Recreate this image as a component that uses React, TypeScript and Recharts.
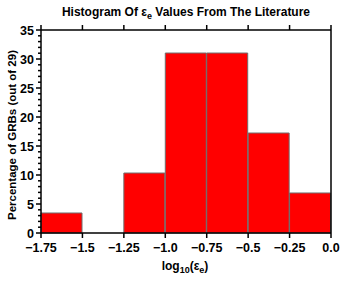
import React from "react";
import { ComposedChart, Bar, XAxis, YAxis } from "recharts";

const binLabels = ["-1.75..-1.5", "-1.5..-1.25", "-1.25..-1.0", "-1.0..-0.75", "-0.75..-0.5", "-0.5..-0.25", "-0.25..0.0"];
const binCenters = [-1.625, -1.375, -1.125, -0.875, -0.625, -0.375, -0.125];
const percentages = [3.45, 0, 10.34, 31.03, 31.03, 17.24, 6.9];
const xTickValues = [-1.75, -1.5, -1.25, -1.0, -0.75, -0.5, -0.25, 0.0];
const xTickLabels = ["\u22121.75", "\u22121.5", "\u22121.25", "\u22121.0", "\u22120.75", "\u22120.5", "\u22120.25", "0.0"];
const yTickValues = Array.from({ length: 36 }, (_, i) => i);

const data = binLabels.map((b, i) => ({ bin: b, center: binCenters[i], pct: percentages[i] }));

const FONT = "'Liberation Sans', Arial, Helvetica, sans-serif";

const LeftTick = (props: any) => {
  const { x, y, payload } = props;
  const major = payload.value % 5 === 0;
  return (
    <g>
      <line x1={x - (major ? 5 : 3)} x2={x} y1={y} y2={y} stroke="#000" strokeWidth={1.5} />
      {major && (
        <text x={x - 7} y={y + 4.5} textAnchor="end" fontFamily={FONT} fontWeight="bold" fontSize={12.5} fill="#000">
          {payload.value}
        </text>
      )}
    </g>
  );
};

const RightTick = (props: any) => {
  const { x, y, payload } = props;
  const major = payload.value % 5 === 0;
  return <line x1={x} x2={x + (major ? 5 : 3)} y1={y} y2={y} stroke="#000" strokeWidth={1.5} />;
};

const BottomTick = (props: any) => {
  const { x, y, payload, index } = props;
  const i = xTickValues.indexOf(payload.value);
  return (
    <g>
      <line x1={x} x2={x} y1={y} y2={y + 5} stroke="#000" strokeWidth={1.5} />
      <text x={x} y={y + 19} textAnchor="middle" fontFamily={FONT} fontWeight="bold" fontSize={12.5} fill="#000">
        {xTickLabels[i >= 0 ? i : index]}
      </text>
    </g>
  );
};

const TopTick = (props: any) => {
  const { x, y } = props;
  return <line x1={x} x2={x} y1={y - 5} y2={y} stroke="#000" strokeWidth={1.5} />;
};

export default function App() {
  return (
    <div style={{ position: "absolute", left: 0, top: 0, width: 342, height: 284, background: "#fff" }}>
      <div
        style={{
          position: "absolute",
          left: 0,
          top: 5,
          width: 372,
          textAlign: "center",
          fontFamily: FONT,
          fontWeight: "bold",
          fontSize: 12,
          color: "#000",
          whiteSpace: "nowrap",
        }}
      >
        Histogram Of &#949;<sub style={{ fontSize: 9 }}>e</sub> Values From The Literature
      </div>
      <div
        style={{
          position: "absolute",
          left: 12,
          top: 135,
          transform: "translate(-50%, -50%) rotate(-90deg)",
          fontFamily: FONT,
          fontWeight: "bold",
          fontSize: 11.5,
          color: "#000",
          whiteSpace: "nowrap",
        }}
      >
        Percentage of GRBs (out of 29)
      </div>
      <div
        style={{
          position: "absolute",
          left: 0,
          top: 259,
          width: 370,
          textAlign: "center",
          fontFamily: FONT,
          fontWeight: "bold",
          fontSize: 12,
          color: "#000",
          whiteSpace: "nowrap",
        }}
      >
        log<sub style={{ fontSize: 9 }}>10</sub>(&#949;<sub style={{ fontSize: 9 }}>e</sub>)
      </div>
      <div style={{ position: "absolute", left: 0, top: 0 }}>
        <ComposedChart
          width={342}
          height={284}
          data={data}
          margin={{ top: 0, right: 0, bottom: 0, left: 0 }}
          barCategoryGap={0}
          barGap={0}
        >
          <XAxis
            xAxisId="num"
            dataKey="center"
            type="number"
            domain={[-1.75, 0]}
            allowDataOverflow
            ticks={xTickValues}
            interval={0}
            height={51}
            tickSize={0}
            tickMargin={0}
            tickLine={false}
            axisLine={{ stroke: "#000", strokeWidth: 1.5 }}
            tick={<BottomTick />}
          />
          <XAxis xAxisId="cat" dataKey="bin" type="category" hide height={0} />
          <XAxis
            xAxisId="top"
            orientation="top"
            dataKey="center"
            type="number"
            domain={[-1.75, 0]}
            allowDataOverflow
            ticks={xTickValues}
            interval={0}
            height={30}
            tickSize={0}
            tickMargin={0}
            tickLine={false}
            axisLine={{ stroke: "#000", strokeWidth: 1.5 }}
            tick={<TopTick />}
          />
          <YAxis
            yAxisId="left"
            type="number"
            domain={[0, 35]}
            ticks={yTickValues}
            interval={0}
            width={41}
            tickSize={0}
            tickMargin={0}
            tickLine={false}
            axisLine={{ stroke: "#000", strokeWidth: 1.5 }}
            tick={<LeftTick />}
          />
          <YAxis
            yAxisId="right"
            orientation="right"
            type="number"
            domain={[0, 35]}
            ticks={yTickValues}
            interval={0}
            width={11}
            tickSize={0}
            tickMargin={0}
            tickLine={false}
            axisLine={{ stroke: "#000", strokeWidth: 1.5 }}
            tick={<RightTick />}
          />
          <Bar
            xAxisId="cat"
            yAxisId="left"
            dataKey="pct"
            fill="#ff0000"
            stroke="#6e6e6e"
            strokeWidth={1}
            isAnimationActive={false}
          />
        </ComposedChart>
      </div>
    </div>
  );
}
